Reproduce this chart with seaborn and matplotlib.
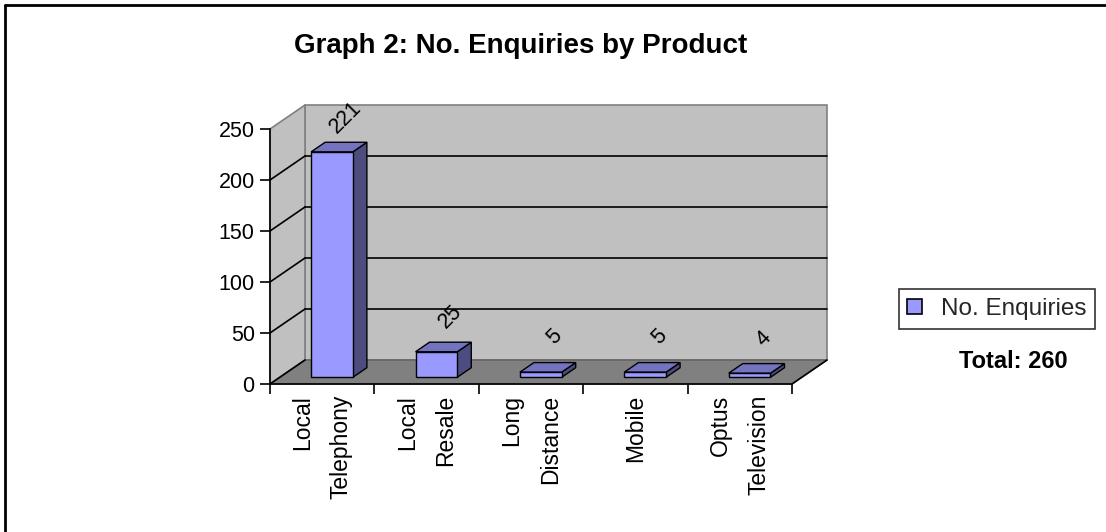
import matplotlib
matplotlib.use("Agg")
import matplotlib.pyplot as plt
import matplotlib.transforms as mtransforms
from matplotlib.patches import Polygon, Rectangle
from matplotlib.lines import Line2D
import seaborn as sns
import pandas as pd

# ---- data ----
categories = ["Local\nTelephony", "Local\nResale", "Long\nDistance", "Mobile", "Optus\nTelevision"]
values = [221, 25, 5, 5, 4]
y_ticks = [0, 50, 100, 150, 200, 250]
series_name = "No. Enquiries"
title_text = "Graph 2: No. Enquiries by Product"
total_text = "Total: 260"

sns.set_theme(style="white")
plt.rcParams['font.family'] = ['Liberation Sans', 'DejaVu Sans']

W, H = 1106, 532
DPI = 100
fig = plt.figure(figsize=(W / DPI, H / DPI), dpi=DPI)
fig.patch.set_facecolor("white")

# front plane of the 3D plot area
L, R, B, T = 270, 792, 384, 129
ax = fig.add_axes([L / W, 1 - B / H, (R - L) / W, (B - T) / H])
ax.set_facecolor("none")

DX, DY = 35, 24       # depth offset in pixels (right, up)
D0, D1 = 0.28, 0.68    # bar front / back depth fraction

df = pd.DataFrame({"category": categories, "value": values})
sns.barplot(data=df, x="category", y="value", ax=ax, color="#9999ff",
            saturation=1, width=0.4, edgecolor="black", linewidth=1, zorder=5)

ax.set_xlim(-0.5, 4.5)
ax.set_ylim(0, 250)
fig.canvas.draw()


def off(d):
    return ax.transData + mtransforms.ScaledTranslation(DX * d / DPI, DY * d / DPI, fig.dpi_scale_trans)


def P(x, y, d):
    px, py = ax.transData.transform((x, y))
    return (px + DX * d, py + DY * d)


ident = mtransforms.IdentityTransform()
x0, x1 = -0.5, 4.5
ymax = 250

# walls and floor
back = Polygon([P(x0, 0, 1), P(x1, 0, 1), P(x1, ymax, 1), P(x0, ymax, 1)], closed=True,
               transform=ident, facecolor="#c0c0c0", edgecolor="#808080", lw=1.2, zorder=0.5)
left = Polygon([P(x0, 0, 0), P(x0, 0, 1), P(x0, ymax, 1), P(x0, ymax, 0)], closed=True,
               transform=ident, facecolor="#c0c0c0", edgecolor="#808080", lw=1.2, zorder=0.5)
floor = Polygon([P(x0, 0, 0), P(x1, 0, 0), P(x1, 0, 1), P(x0, 0, 1)], closed=True,
                transform=ident, facecolor="#808080", edgecolor="#606060", lw=1.0, zorder=0.6)
for p in (back, left, floor):
    p.set_clip_on(False)
    ax.add_artist(p)

# gridlines (back wall + left wall)
for t in y_ticks:
    if t in (0, ymax):
        continue
    ax.add_line(Line2D(*zip(P(x0, t, 1), P(x1, t, 1)), transform=ident, color="black", lw=1.2, zorder=1, clip_on=False))
for t in y_ticks:
    if t == ymax:
        continue
    ax.add_line(Line2D(*zip(P(x0, t, 0), P(x0, t, 1)), transform=ident, color="black", lw=1.2, zorder=1, clip_on=False))
# floor right edge
ax.add_line(Line2D(*zip(P(x1, 0, 0), P(x1, 0, 1)), transform=ident, color="black", lw=1.2, zorder=1, clip_on=False))

# 3D bars: move fronts back, add top and side faces
bars = [p for p in ax.patches if isinstance(p, Rectangle) and p.get_width() < 1]
for patch, v in zip(bars, values):
    patch.set_transform(off(D0))
    patch.set_clip_on(False)
    bx0 = patch.get_x()
    bx1 = bx0 + patch.get_width()
    h = patch.get_height()
    side = Polygon([P(bx1, 0, D0), P(bx1, h, D0), P(bx1, h, D1), P(bx1, 0, D1)], closed=True,
                   transform=ident, facecolor="#4c4c80", edgecolor="black", lw=1, zorder=4, clip_on=False)
    top = Polygon([P(bx0, h, D0), P(bx1, h, D0), P(bx1, h, D1), P(bx0, h, D1)], closed=True,
                  transform=ident, facecolor="#7373bf", edgecolor="black", lw=1, zorder=4, clip_on=False)
    ax.add_artist(side)
    ax.add_artist(top)
    cx = bx0 + patch.get_width() / 2
    ax.annotate(str(v), xy=(cx, h), xycoords=off((D0 + D1) / 2),
                xytext=(7, 30), textcoords="offset pixels",
                rotation=45, ha="center", va="center", fontsize=15.5, color="black",
                annotation_clip=False, zorder=6)

# axes styling
for s in ("top", "right"):
    ax.spines[s].set_visible(False)
for s in ("left", "bottom"):
    ax.spines[s].set_visible(True)
    ax.spines[s].set_color("black")
    ax.spines[s].set_linewidth(1.2)
    ax.spines[s].set_zorder(3)

ax.set_yticks(y_ticks)
ax.set_yticklabels([str(t) for t in y_ticks], fontsize=15.5)
ax.set_xticks([i - 0.5 for i in range(len(categories) + 1)])
ax.set_xticklabels([""] * (len(categories) + 1))
ax.set_xticks(range(len(categories)), minor=True)
ax.set_xticklabels(categories, minor=True, rotation=90, fontsize=16.5,
                   ha="center", va="top", multialignment="right", linespacing=1.85)
ax.tick_params(axis="both", which="major", direction="out", length=7, width=1.2,
               color="black", left=True, bottom=True, pad=4, labelcolor="black")
ax.tick_params(axis="x", which="minor", length=0, pad=8, labelcolor="black")
ax.set_xlabel("")
ax.set_ylabel("")

# title
fig.text(521 / W, 1 - 46 / H, title_text, ha="center", va="center",
         fontsize=20, fontweight="bold", color="black")

# legend
handle = Rectangle((0, 0), 1, 1, facecolor="#9999ff", edgecolor="black", lw=1.2)
leg = fig.legend([handle], [series_name], loc="center",
                 bbox_to_anchor=(997 / W, 1 - 309 / H), fontsize=17.5,
                 frameon=True, fancybox=False, edgecolor="black",
                 handlelength=0.6, handleheight=0.6, handletextpad=0.8,
                 borderpad=0.35, borderaxespad=0)
leg.get_frame().set_linewidth(1.2)

fig.text(1013 / W, 1 - 362 / H, total_text, ha="center", va="center",
         fontsize=17, fontweight="bold", color="black")

# outer border (left & top)
fig.add_artist(Line2D([5 / W, 5 / W], [0, 1 - 5 / H], transform=fig.transFigure, color="black", lw=2))
fig.add_artist(Line2D([5 / W, 1], [1 - 5 / H, 1 - 5 / H], transform=fig.transFigure, color="black", lw=2))

fig.savefig("out.png", dpi=DPI)
